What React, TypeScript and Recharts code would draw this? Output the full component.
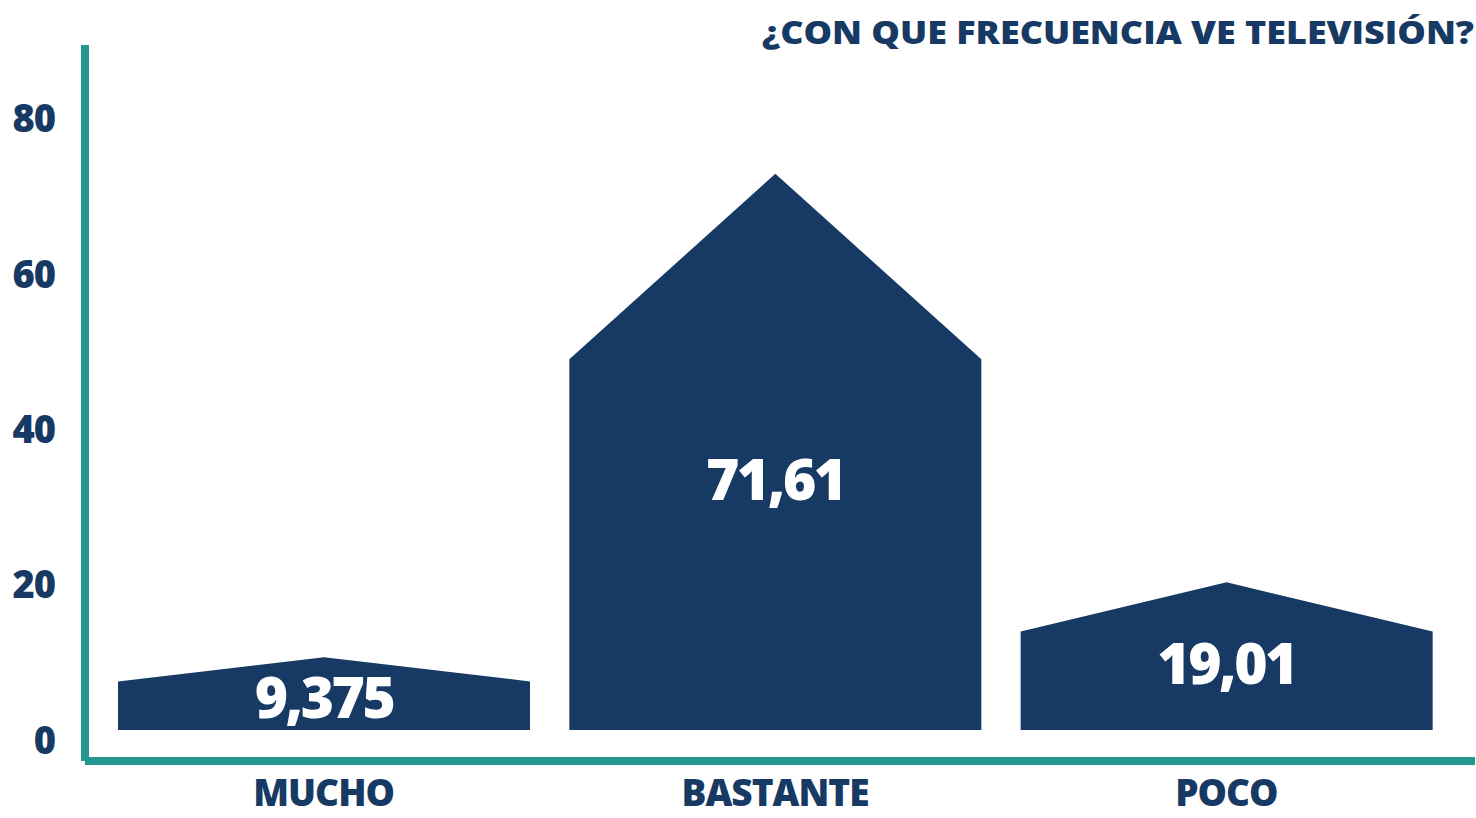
import { Bar, BarChart, XAxis, YAxis } from "recharts";

const categories = ["MUCHO", "BASTANTE", "POCO"];
const values = [9.375, 71.61, 19.01];
const yTicks = [0, 20, 40, 60, 80];
const title = "¿CON QUE FRECUENCIA VE TELEVISIÓN?";

const NAVY = "#163a64";
const TEAL = "#22968f";
const FONT = "'Open Sans', Lato, sans-serif";

const data = categories.map((name, i) => ({ name, value: values[i] }));

const fmt = (v: number) => String(v).replace(".", ",");

function HouseBar(props: any) {
  const { x, y, width, height, value } = props;
  if (!height || height <= 0) return null;
  const base = y + height;
  const shoulder = y + height / 3;
  const d = `M${x},${base} L${x},${shoulder} L${x + width / 2},${y} L${x + width},${shoulder} L${x + width},${base} Z`;
  return (
    <g>
      <path d={d} fill={NAVY} />
      <text
        x={x + width / 2}
        y={base - height * 0.45}
        dy="0.36em"
        textAnchor="middle"
        fill="#ffffff"
        fontFamily={FONT}
        fontWeight={800}
        fontSize={57}
        letterSpacing={-2.5}
      >
        {fmt(value)}
      </text>
    </g>
  );
}

function YTick(props: any) {
  const { x, y, payload } = props;
  return (
    <text
      x={x}
      y={y + 10}
      dy="0.36em"
      textAnchor="end"
      fill={NAVY}
      fontFamily={FONT}
      fontWeight={800}
      fontSize={38}
      letterSpacing={-1}
    >
      {payload.value}
    </text>
  );
}

function XTick(props: any) {
  const { x, y, payload } = props;
  return (
    <text
      x={x}
      y={y}
      dy="0.71em"
      textAnchor="middle"
      fill={NAVY}
      fontFamily={FONT}
      fontWeight={800}
      fontSize={37}
      letterSpacing={-1}
    >
      {payload.value}
    </text>
  );
}

export default function App() {
  return (
    <div style={{ position: "absolute", left: 0, top: 0, width: 1476, height: 818, background: "#fff" }}>
      <svg width={1476} height={60} style={{ position: "absolute", left: 0, top: 0 }}>
        <text
          x={762}
          y={44}
          textLength={712}
          lengthAdjust="spacingAndGlyphs"
          fill={NAVY}
          fontFamily={FONT}
          fontWeight={800}
          fontSize={32}
        >
          {title}
        </text>
      </svg>
      <BarChart
        width={1476}
        height={818}
        data={data}
        margin={{ top: 45, right: 1, bottom: 0, left: 0 }}
        barSize={412}
      >
        <XAxis
          dataKey="name"
          height={57}
          padding={{ left: 13, right: 23 }}
          axisLine={{ stroke: TEAL, strokeWidth: 8 }}
          tickLine={false}
          tickSize={0}
          tickMargin={19}
          tick={<XTick />}
        />
        <YAxis
          width={85}
          domain={[-4, 88.2]}
          ticks={yTicks}
          allowDataOverflow
          axisLine={{ stroke: TEAL, strokeWidth: 8 }}
          tickLine={false}
          tickSize={0}
          tickMargin={30}
          tick={<YTick />}
        />
        <Bar dataKey="value" shape={<HouseBar />} isAnimationActive={false} />
      </BarChart>
    </div>
  );
}
